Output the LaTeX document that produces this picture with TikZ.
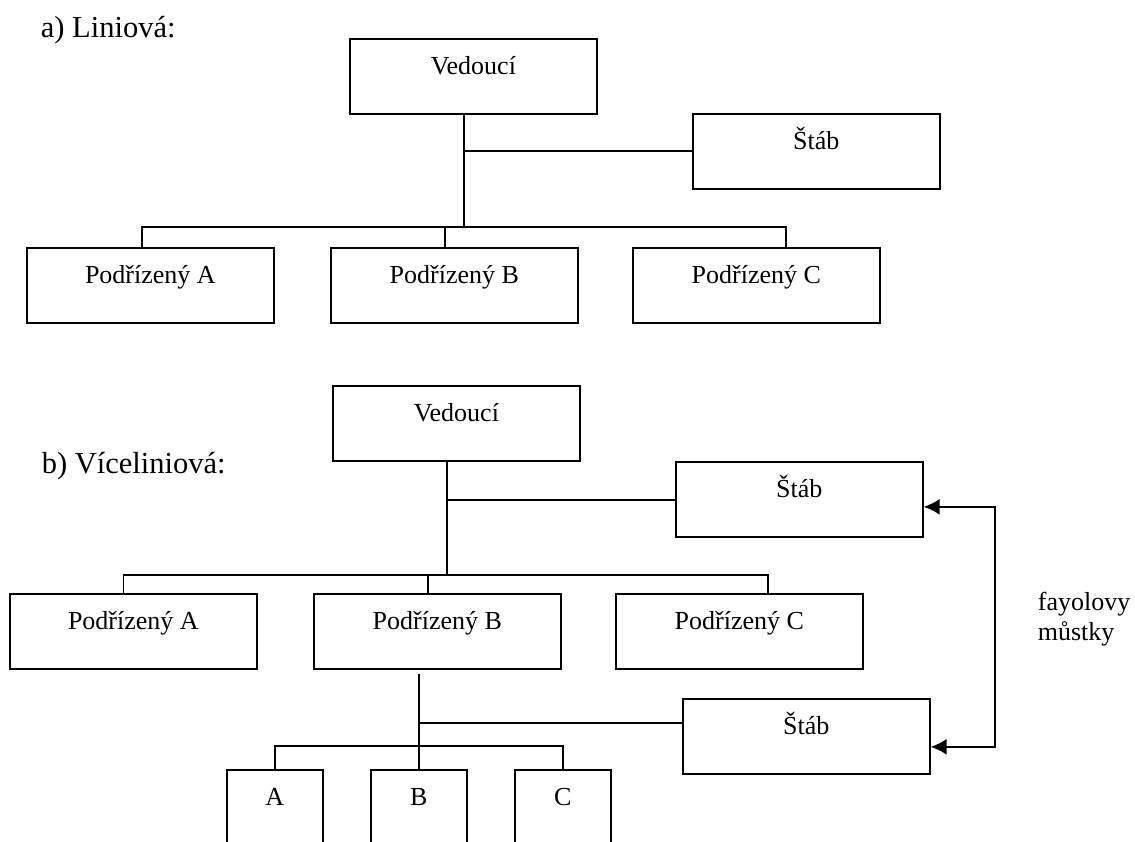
\documentclass[tikz,border=0pt]{standalone}
\usepackage{fontspec}
\setmainfont{Liberation Serif}
\usetikzlibrary{arrows.meta}
\begin{document}
\begin{tikzpicture}[x=1pt,y=-1pt,line width=1.7pt,
  box/.style={draw,rectangle,inner sep=0pt,minimum width=247pt,text height=36pt,text depth=39pt,anchor=north west,font=\fontsize{26}{30}\selectfont},
  small/.style={draw,rectangle,inner sep=0pt,minimum width=96pt,text height=36pt,text depth=70pt,anchor=north west,font=\fontsize{26}{30}\selectfont},
  ttl/.style={anchor=base west,inner sep=0pt,font=\fontsize{30.5}{36}\selectfont},
  note/.style={anchor=base west,align=left,inner sep=0pt,font=\fontsize{26}{30}\selectfont},
  arr/.style={arrows={Latex[length=16pt,width=16pt]-Latex[length=16pt,width=16pt]}}]
\useasboundingbox (0,0) rectangle (1135,842);
\clip (0,0) rectangle (1135,842);
% ---------- a) ----------
\node[ttl] (ta) at (40,38) {a) Liniová:};
\node[box] (va) at (349,38) {Vedoucí};
\node[box] (sa) at (692,113) {Štáb};
\node[box] (pa1) at (26,247) {Podřízený A};
\node[box] (pa2) at (330,247) {Podřízený B};
\node[box] (pa3) at (632,247) {Podřízený C};
\coordinate (busa) at (463,227);
\draw ([xshift=-9.5pt]va.south) -- ([xshift=-9.5pt]va.south |- busa);
\draw (sa.west) -- (sa.west -| busa);
\draw ([xshift=-8.5pt]pa1.north) -- ([xshift=-8.5pt]pa1.north |- busa) -| ([xshift=29.5pt]pa3.north);
\draw ([xshift=-9.5pt]pa2.north) -- ([xshift=-9.5pt]pa2.north |- busa);
% ---------- b) ----------
\node[ttl] (tb) at (41,473) {b) Víceliniová:};
\node[box] (vb) at (332,385) {Vedoucí};
\node[box] (sb1) at (675,461) {Štáb};
\node[box] (pb1) at (9,593) {Podřízený A};
\node[box] (pb2) at (313,593) {Podřízený B};
\node[box] (pb3) at (615,593) {Podřízený C};
\coordinate (busb) at (446,575);
\draw ([xshift=-9.5pt]vb.south) -- ([xshift=-9.5pt]vb.south |- busb);
\draw ([yshift=-0.5pt]sb1.west) -- ([yshift=-0.5pt]sb1.west -| busb);
\draw ([xshift=-10pt]pb1.north) -- ([xshift=-10pt]pb1.north |- busb) -| ([xshift=28.5pt]pb3.north);
\draw ([xshift=-9.5pt]pb2.north) -- ([xshift=-9.5pt]pb2.north |- busb);
% second level
\node[box] (sb2) at (682,698) {Štáb};
\node[small] (c1) at (226,769) {A};
\node[small] (c2) at (370,769) {B};
\node[small] (c3) at (514,769) {C};
\coordinate (top2) at ([xshift=-18.5pt,yshift=-4pt]pb2.south);
\coordinate (busc) at (418,746);
\draw (top2) -- (c2.north);
\draw ([yshift=13.5pt]sb2.west) -- ([yshift=13.5pt]sb2.west -| top2);
\draw (c1.north) -- (c1.north |- busc) -| (c3.north);
% Fayol bridge
\draw[arr] ([yshift=-7.5pt]sb1.east) -- ++(71,0) |- ([yshift=-10.5pt]sb2.east);
\node[note] (fm) at (1037,640) {fayolovy\\můstky};
\end{tikzpicture}
\end{document}
